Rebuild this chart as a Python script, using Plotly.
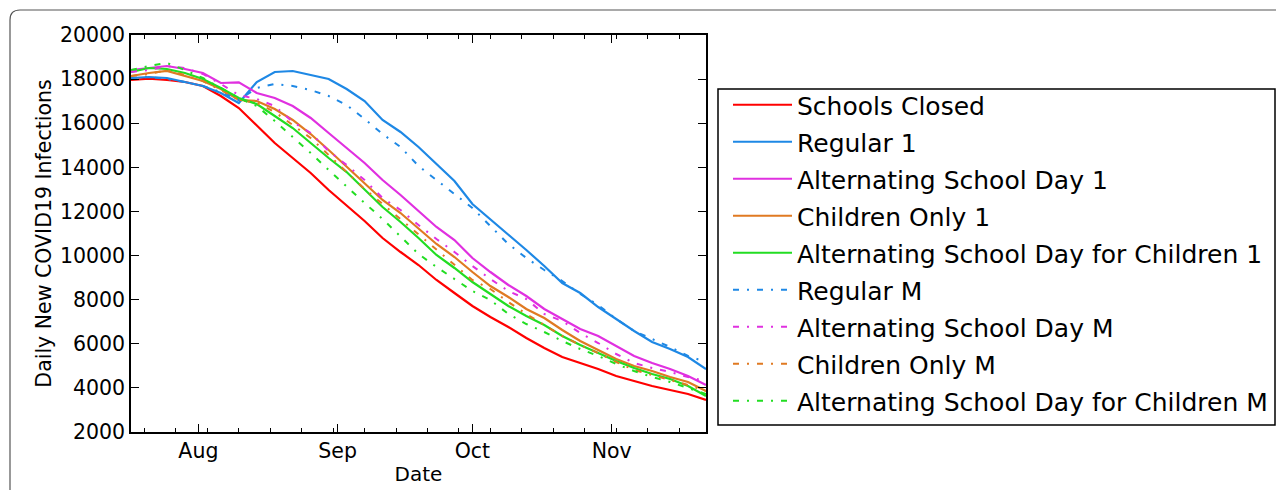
import plotly.graph_objects as go

dates = ["2020-07-17", "2020-07-21", "2020-07-25", "2020-07-29", "2020-08-02", "2020-08-06",
         "2020-08-10", "2020-08-14", "2020-08-18", "2020-08-22", "2020-08-26", "2020-08-30",
         "2020-09-03", "2020-09-07", "2020-09-11", "2020-09-15", "2020-09-19", "2020-09-23",
         "2020-09-27", "2020-10-01", "2020-10-05", "2020-10-09", "2020-10-13", "2020-10-17",
         "2020-10-21", "2020-10-25", "2020-10-29", "2020-11-02", "2020-11-06", "2020-11-10",
         "2020-11-14", "2020-11-18", "2020-11-22"]

schools_closed = [17960, 18020, 17960, 17869, 17688, 17234, 16690, 15919, 15103, 14423, 13743, 12972,
                  12247, 11567, 10796, 10161, 9572, 8892, 8302, 7713, 7214, 6761, 6262, 5809,
                  5401, 5129, 4856, 4539, 4312, 4086, 3904, 3723, 3450]
regular_1 = [18050, 18096, 18050, 17869, 17688, 17370, 16917, 17869, 18322, 18368, 18186, 18005,
             17552, 17008, 16146, 15602, 14922, 14151, 13380, 12338, 11657, 10977, 10252, 9526,
             8756, 8302, 7667, 7123, 6579, 6080, 5763, 5400, 4850]
alt_day_1 = [18413, 18504, 18594, 18458, 18277, 17824, 17850, 17370, 17144, 16781, 16237, 15557,
             14876, 14196, 13426, 12746, 12020, 11295, 10705, 9889, 9254, 8665, 8166, 7577,
             7123, 6670, 6352, 5899, 5446, 5129, 4856, 4539, 4130]
children_1 = [18141, 18277, 18368, 18141, 17914, 17552, 17053, 17008, 16645, 16146, 15511, 14786,
              14015, 13244, 12519, 11930, 11249, 10524, 9934, 9254, 8619, 8120, 7577, 7168,
              6624, 6125, 5717, 5309, 4992, 4765, 4493, 4267, 3860]
alt_children_1 = [18322, 18504, 18458, 18277, 18005, 17597, 17144, 16872, 16327, 15783, 15103, 14423,
                  13788, 12972, 12201, 11521, 10796, 10025, 9436, 8801, 8257, 7713, 7259, 6851,
                  6352, 5944, 5582, 5219, 4901, 4629, 4403, 4086, 3632]
regular_m = [18050, 18096, 18005, 17869, 17688, 17416, 17053, 17597, 17779, 17688, 17506, 17234,
             16826, 16191, 15511, 14922, 14060, 13426, 12791, 12156, 11340, 10524, 9889, 9345,
             8846, 8257, 7758, 7123, 6579, 6217, 5854, 5446, 5174]
alt_day_m = [18322, 18413, 18594, 18504, 18232, 17778, 17280, 17098, 16781, 16055, 15557, 14741,
             14106, 13426, 12610, 12066, 11385, 10751, 10161, 9526, 8937, 8393, 8030, 7350,
             7032, 6488, 6035, 5536, 5129, 4902, 4720, 4493, 4312]
children_m = [18141, 18232, 18413, 18186, 17914, 17506, 17053, 16917, 16509, 15919, 15330, 14559,
              13788, 13018, 12338, 11657, 10977, 10252, 9572, 8892, 8484, 7894, 7350, 6851,
              6352, 5944, 5582, 5174, 4811, 4584, 4357, 4131, 3859]
alt_children_m = [18413, 18594, 18730, 18413, 18050, 17597, 17144, 16781, 16101, 15375, 14650, 13879,
                  13108, 12383, 11657, 10887, 10071, 9481, 8937, 8393, 7985, 7350, 6896, 6534,
                  6126, 5763, 5446, 5083, 4766, 4493, 4267, 3995, 3723]

DASHDOT = "6px,8px,2px,8px"
series = [
    ("Schools Closed", schools_closed, "#ff0000", "solid"),
    ("Regular 1", regular_1, "#1e88e5", "solid"),
    ("Alternating School Day 1", alt_day_1, "#e030e0", "solid"),
    ("Children Only 1", children_1, "#e07a22", "solid"),
    ("Alternating School Day for Children 1", alt_children_1, "#22dd22", "solid"),
    ("Regular M", regular_m, "#1e88e5", DASHDOT),
    ("Alternating School Day M", alt_day_m, "#e030e0", DASHDOT),
    ("Children Only M", children_m, "#e07a22", DASHDOT),
    ("Alternating School Day for Children M", alt_children_m, "#22dd22", DASHDOT),
]

FONT = "DejaVu Sans"
fig = go.Figure()
for i, (name, vals, color, dash) in enumerate(series):
    fig.add_trace(go.Scatter(x=dates, y=vals, mode="lines", name=name,
                             legendgroup=f"g{i}",
                             line=dict(color=color, width=2.2 if dash == "solid" else 2.0,
                                       dash=dash)))

# page offset of the html body (8px default margin)
OFF = 8
FW, FH = 1284 - OFF, 490 - OFF
# plot area in page pixels -> figure pixels
L, R, T, B = 131 - OFF, 706 - OFF, 35 - OFF, 432 - OFF
W, H = R - L, B - T

def px(x):
    return (x - OFF - L) / W

def py(y):
    return (B - (y - OFF)) / H

# outer rounded frame
xl, yt = px(10), py(10)
xb, yb = px(1300), py(500)
rx, ry = 10 / W, 10 / H
frame = f"M {xl},{yb} L {xl},{yt - ry} Q {xl},{yt} {xl + rx},{yt} L {xb},{yt}"

fig.update_layout(
    width=FW, height=FH, autosize=False,
    margin=dict(l=L, r=FW - R, t=T, b=FH - B, autoexpand=False),
    paper_bgcolor="white", plot_bgcolor="white",
    font=dict(family=FONT, size=20, color="black"),
    showlegend=True,
    legend=dict(x=px(728), y=py(82), xanchor="left", yanchor="top",
                borderwidth=0, bgcolor="rgba(0,0,0,0)",
                font=dict(family=FONT, size=25), tracegroupgap=1.5,
                itemwidth=59, traceorder="grouped"),
    shapes=[
        dict(type="path", path=frame, xref="paper", yref="paper",
             line=dict(color="#555555", width=1.2)),
        dict(type="rect", xref="paper", yref="paper",
             x0=px(718), x1=px(1275), y0=py(425), y1=py(89),
             line=dict(color="black", width=1.5), fillcolor="rgba(0,0,0,0)"),
    ],
)
fig.update_xaxes(
    type="date", range=["2020-07-17", "2020-11-22"],
    showgrid=False, showline=True, linecolor="black", linewidth=1.5, mirror="ticks",
    ticks="inside", ticklen=8, tickwidth=1, tickcolor="black",
    dtick="M1", tick0="2020-08-01", tickformat="%b",
    tickfont=dict(family=FONT, size=20.5),
    minor=dict(ticks="inside", ticklen=4, tickwidth=1, tickcolor="black",
               dtick=7 * 86400000, tick0="2020-07-20", showgrid=False),
    title=dict(text="Date", font=dict(family=FONT, size=20), standoff=5),
    zeroline=False,
)
fig.update_yaxes(
    range=[2000, 20000], dtick=2000, tick0=2000, tickformat="d",
    showgrid=False, showline=True, linecolor="black", linewidth=1.5, mirror="ticks",
    ticks="inside", ticklen=8, tickwidth=1, tickcolor="black",
    tickfont=dict(family=FONT, size=20.5),
    title=dict(text="Daily New COVID19 Infections", font=dict(family=FONT, size=20.5), standoff=3),
    zeroline=False,
)
fig.write_html("out.html")
